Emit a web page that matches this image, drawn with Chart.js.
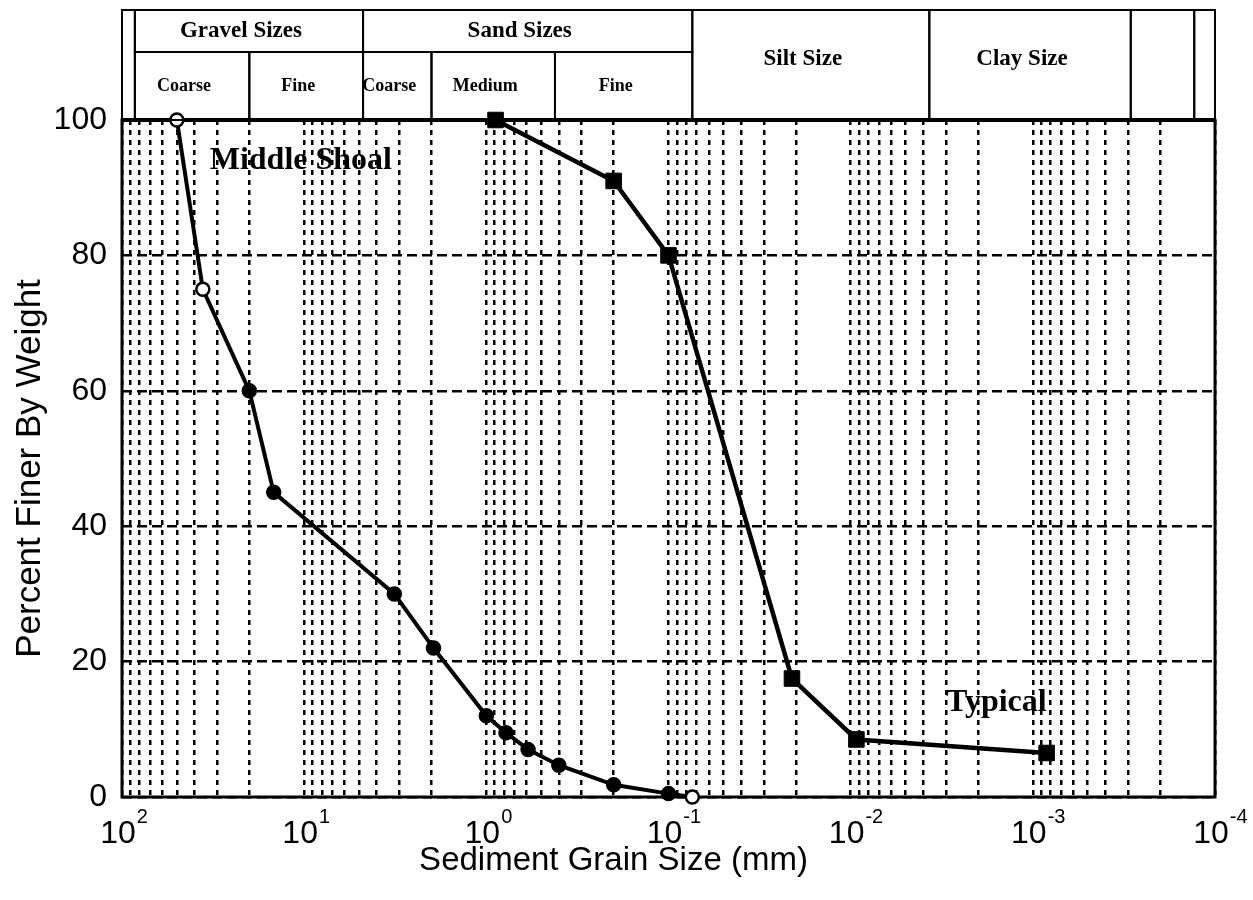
<!DOCTYPE html>
<html>
<head>
<meta charset="utf-8">
<title>Sediment Grain Size Distribution</title>
<script src="https://cdn.jsdelivr.net/npm/chart.js@4.4.1/dist/chart.umd.min.js"></script>
<style>
  html, body { margin: 0; padding: 0; background: #fff; }
  canvas { display: block; }
</style>
</head>
<body>
<canvas id="grainChart" width="1253" height="900"></canvas>
<script>
// grain size in mm / percent finer by weight
const middleShoalSize = [50, 36, 20, 14.7, 3.2, 1.95, 1.0, 0.78, 0.59, 0.40, 0.20, 0.10, 0.074];
const middleShoalPct  = [100, 75, 60, 45, 30, 22, 12, 9.5, 7, 4.7, 1.8, 0.5, 0];
const typicalSize = [0.89, 0.20, 0.10, 0.021, 0.0093, 0.00084];
const typicalPct  = [100, 91, 80, 17.5, 8.5, 6.5];

// axis ticks
const decadeTicks = [100, 10, 1, 0.1, 0.01, 0.001, 0.0001];
const decadeExponents = ['2', '1', '0', '-1', '-2', '-3', '-4'];
const minorSteps = [1, 2, 3, 4, 5, 6, 7, 8, 9];
const percentTicks = [0, 20, 40, 60, 80, 100];

// size-class band above the plot (edges in mm)
const classTop = [['Gravel Sizes', 85, 4.75], ['Sand Sizes', 4.75, 0.074]];
const classSub = [['Coarse', 85, 20], ['Fine', 20, 4.75], ['Coarse', 4.75, 2], ['Medium', 2, 0.42], ['Fine', 0.42, 0.074]];
const classFull = [['', 100, 85], ['Silt Size', 0.074, 0.0037], ['Clay Size', 0.0037, 0.00029], ['', 0.00029, 0.00013], ['', 0.00013, 0.0001]];

const gridValues = [];
decadeTicks.forEach(d => {
    minorSteps.forEach(m => {
        if (d * m <= 100) gridValues.push(d * m);
    });
});

const toPoints = (xs, ys) => xs.map((x, i) => ({ x: x, y: ys[i] }));

const frameAndHeader = {
    id: 'frameAndHeader',
    beforeDatasetsDraw(chart) {
        const { ctx, chartArea: a } = chart;
        ctx.save();
        ctx.strokeStyle = '#000';
        ctx.lineWidth = 3;
        ctx.strokeRect(a.left, a.top, a.right - a.left, a.bottom - a.top);
        ctx.lineWidth = 4;
        ctx.beginPath();
        ctx.moveTo(a.left, a.top);
        ctx.lineTo(a.right, a.top);
        ctx.stroke();
        ctx.restore();
    },
    afterDraw(chart) {
        const { ctx, chartArea: a, scales } = chart;
        const xs = scales.x, ys = scales.y;
        const top = a.top - 110, mid = a.top - 68, bot = a.top;
        ctx.save();
        ctx.strokeStyle = '#000';
        ctx.fillStyle = '#000';
        ctx.lineWidth = 2;
        ctx.textAlign = 'center';
        ctx.textBaseline = 'middle';

        const cell = (c, y1, y2, font, dy) => {
            const x1 = xs.getPixelForValue(c[1]), x2 = xs.getPixelForValue(c[2]);
            ctx.strokeRect(x1, y1, x2 - x1, y2 - y1);
            if (c[0]) {
                ctx.font = font;
                ctx.fillText(c[0], (x1 + x2) / 2 - 8, (y1 + y2) / 2 + dy);
            }
        };
        classTop.forEach(c => cell(c, top, mid, 'bold 23px "Liberation Serif"', 0));
        classSub.forEach(c => cell(c, mid, bot, 'bold 18px "Liberation Serif"', 0));
        classFull.forEach(c => cell(c, top, bot, 'bold 23px "Liberation Serif"', -6));

        // x tick labels as powers of ten
        decadeTicks.forEach((v, i) => {
            const px = xs.getPixelForValue(v) - 4;
            ctx.font = '32px "Liberation Sans"';
            ctx.textAlign = 'center';
            ctx.textBaseline = 'alphabetic';
            ctx.fillText('10', px, a.bottom + 46);
            const w = ctx.measureText('10').width;
            ctx.font = '20px "Liberation Sans"';
            ctx.textAlign = 'left';
            ctx.fillText(decadeExponents[i], px + w / 2 + 1, a.bottom + 26);
        });

        // axis titles
        ctx.textAlign = 'center';
        ctx.textBaseline = 'middle';
        ctx.font = '33px "Liberation Sans"';
        ctx.fillText('Sediment Grain Size (mm)', (a.left + a.right) / 2 - 55, a.bottom + 64);
        ctx.save();
        ctx.translate(30, (a.top + a.bottom) / 2 + 10);
        ctx.rotate(-Math.PI / 2);
        ctx.font = '35px "Liberation Sans"';
        ctx.fillText('Percent Finer By Weight', 0, 0);
        ctx.restore();

        // curve labels
        ctx.font = 'bold 32px "Liberation Serif"';
        ctx.textAlign = 'left';
        ctx.fillText('Middle Shoal', xs.getPixelForValue(33), ys.getPixelForValue(94));
        ctx.fillText('Typical', xs.getPixelForValue(0.0030), ys.getPixelForValue(13.9));
        ctx.restore();
    }
};

const ctx = document.getElementById('grainChart').getContext('2d');
new Chart(ctx, {
    type: 'line',
    data: {
        datasets: [{
            label: 'Middle Shoal',
            data: toPoints(middleShoalSize, middleShoalPct),
            borderColor: '#000',
            borderWidth: 4,
            pointRadius: 6.5,
            pointBorderWidth: 2.5,
            pointBorderColor: '#000',
            pointBackgroundColor: c => (c.dataIndex < 2 || c.dataIndex === middleShoalSize.length - 1) ? '#fff' : '#000',
            tension: 0,
            clip: false
        }, {
            label: 'Typical',
            data: toPoints(typicalSize, typicalPct),
            borderColor: '#000',
            borderWidth: 4.5,
            pointStyle: 'rect',
            pointRadius: 11,
            pointBorderWidth: 1,
            pointBorderColor: '#000',
            pointBackgroundColor: '#000',
            tension: 0,
            clip: false
        }]
    },
    options: {
        responsive: false,
        animation: false,
        layout: { padding: { top: 120, right: 38, left: 0, bottom: 0 } },
        plugins: { legend: { display: false }, tooltip: { enabled: false } },
        scales: {
            x: {
                type: 'logarithmic',
                reverse: true,
                min: 0.0001,
                max: 100,
                afterBuildTicks: s => { s.ticks = gridValues.map(v => ({ value: v })); },
                afterFit: s => { s.height = 103; },
                ticks: { display: false },
                grid: { color: '#000', lineWidth: 2.5, drawTicks: false },
                border: { display: false, dash: [5, 5] }
            },
            y: {
                min: 0,
                max: 100,
                afterBuildTicks: s => { s.ticks = percentTicks.map(v => ({ value: v })); },
                afterFit: s => { s.width = 122; },
                ticks: { color: '#000', padding: 15, font: { family: 'Liberation Sans', size: 32 } },
                grid: { color: '#000', lineWidth: 2.5, drawTicks: false },
                border: { display: false, dash: [10, 5] }
            }
        }
    },
    plugins: [frameAndHeader]
});
</script>
</body>
</html>
